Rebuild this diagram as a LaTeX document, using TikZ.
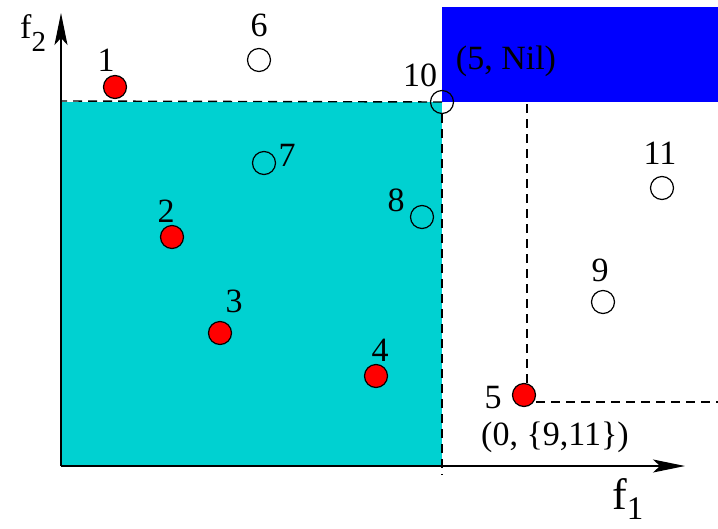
\documentclass[tikz,border=0pt]{standalone}
\usepackage{fontspec}
\setmainfont{Liberation Serif}
\usetikzlibrary{arrows.meta}
\definecolor{cyanfill}{RGB}{0,209,209}
\definecolor{bluefill}{RGB}{0,0,255}
\tikzset{
  pt/.style={circle, draw=black, line width=1.2pt, minimum size=23pt, inner sep=0pt},
  redpt/.style={pt, fill=red},
  openpt/.style={pt, fill=none},
  lbl/.style={inner sep=0pt, font=\fontsize{34}{40}\selectfont},
  axis/.style={line width=1.5pt, -{Stealth[length=32pt,width=13pt,inset=7pt]}},
  dline/.style={line width=1.4pt, dash pattern=on 9pt off 6pt},
}
\begin{document}
\begin{tikzpicture}[x=1pt,y=-1pt]
\useasboundingbox (0,0) rectangle (718,528);
% regions
\fill[cyanfill] (61,102) rectangle (442,466);
\fill[bluefill] (442,7) rectangle (718,102);
% coordinates
\coordinate (O) at (61,466);
\coordinate (ytip) at (61,13);
\coordinate (xtip) at (685,466);
\coordinate (hl) at (61,101);
\coordinate (vb) at (442,475);
\coordinate (v5top) at (527,102);
\coordinate (h5r) at (718,402);
% points
\node[redpt] (p1) at (115,87) {};
\node[redpt] (p2) at (172,237) {};
\node[redpt] (p3) at (220,333) {};
\node[redpt] (p4) at (376,376) {};
\node[redpt] (p5) at (524,395) {};
\node[openpt] (p6) at (259,60) {};
\node[openpt] (p7) at (264,163) {};
\node[openpt] (p8) at (422,217) {};
\node[openpt] (p9) at (603,302) {};
\node[openpt] (p10) at (442,102) {};
\node[openpt] (p11) at (662,188) {};
% dashed lines
\draw[dline] (p10.center) -- (hl);
\draw[dline] (p10.south) -- (vb);
\draw[dline] (p5.north -| v5top) -- (v5top);
\draw[dline] (p5.east |- h5r) -- (h5r);
% axes
\draw[axis] (O) -- (ytip);
\draw[axis] (O) -- (xtip);
% labels
\node[lbl] (l1) at (106,60) {1};
\node[lbl] (l2) at (166,211) {2};
\node[lbl] (l3) at (234,301) {3};
\node[lbl] (l4) at (380,350) {4};
\node[lbl] (l5) at (493,398) {5};
\node[lbl] (l6) at (259,25) {6};
\node[lbl] (l7) at (287,155) {7};
\node[lbl] (l8) at (396,200) {8};
\node[lbl] (l9) at (600,270) {9};
\node[lbl] (l10) at (420,75) {10};
\node[lbl] (l11) at (660,153) {11};
\node[lbl] (lnil) at (506,61) {(5, Nil)};
\node[lbl] (l911) at (555,437) {(0, \{9,11\})};
\node[lbl, anchor=base west] (f2) at (20,38) {f\raisebox{-13pt}{\fontsize{29}{34}\selectfont 2}};
\node[lbl, anchor=base west, font=\fontsize{44}{52}\selectfont] (f1) at (612,509) {f\raisebox{-10pt}{\fontsize{33}{39}\selectfont 1}};
\end{tikzpicture}
\end{document}
